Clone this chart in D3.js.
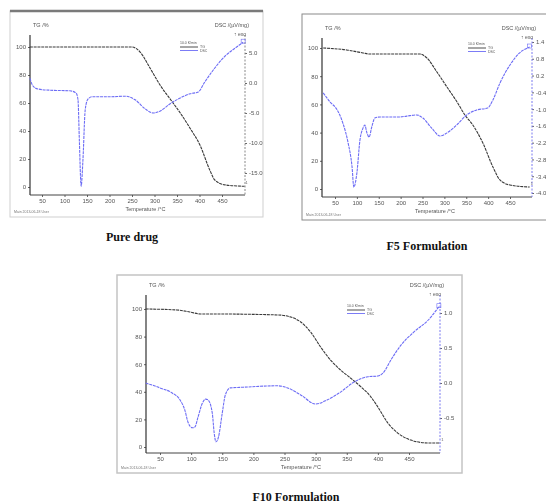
<!DOCTYPE html>
<html><head><meta charset="utf-8">
<script src="https://cdn.jsdelivr.net/npm/d3@7"></script>
<style>body{margin:0;background:#fff}svg{display:block}</style>
</head><body>
<svg id="c" width="546" height="503"></svg>
<script>
// TG / DSC thermograms: pure drug, F5 and F10 formulations

const tempTicks = [50, 100, 150, 200, 250, 300, 350, 400, 450];
const tgTicks = [0, 20, 40, 60, 80, 100];

// Pure drug
const pureTgTemp = [23, 250, 268, 290, 312, 339, 357, 379, 401, 423, 434, 457, 500];
const pureTg     = [100, 100, 96.4, 85, 73, 61, 53, 42, 30, 12, 5, 1.5, 0.5];
const pureDscTemp = [23, 30, 41, 68, 112, 126, 130, 133, 137, 141, 146, 152, 161, 201, 234, 257, 279, 297, 312, 334, 357, 379, 397, 412, 434, 457, 479, 497];
const pureDsc     = [0.8, -0.5, -1.0, -1.2, -1.3, -1.7, -2.8, -9.5, -17.2, -12.8, -4.5, -2.7, -2.3, -2.3, -2.2, -2.8, -4.3, -5.0, -4.7, -3.5, -2.5, -1.8, -1.5, 0.2, 2.5, 4.5, 5.8, 6.8];
const pureDscTicks = [5, 0, -5, -10, -15];
const pureDscLabels = ["5.0", "0.0", "-5.0", "-10.0", "-15.0"];

// F5 formulation
const f5TgTemp = [23, 77, 114, 130, 244, 260, 283, 306, 329, 347, 365, 388, 411, 427, 450, 495];
const f5Tg     = [100, 98.6, 96.5, 95.7, 95.7, 92.9, 83, 72.3, 61.7, 52.5, 45.4, 32.6, 15.6, 6.4, 2.8, 1.4];
const f5DscTemp = [23, 39, 55, 68, 80, 89, 93, 100, 107, 114, 118, 123, 128, 134, 141, 153, 198, 214, 237, 251, 271, 290, 306, 328, 351, 374, 399, 411, 427, 450, 472, 495];
const f5Dsc     = [-0.42, -0.75, -1.03, -1.50, -2.21, -3.07, -3.79, -3.29, -2.11, -1.68, -1.57, -1.85, -2.00, -1.64, -1.32, -1.28, -1.28, -1.25, -1.21, -1.32, -1.68, -1.96, -1.85, -1.57, -1.21, -1.03, -0.96, -0.67, -0.07, 0.58, 1.01, 1.22];
const f5DscTicks = [1.4, 0.8, 0.2, -0.4, -1.0, -1.6, -2.2, -2.8, -3.4, -4.0];
const f5DscLabels = ["1.4", "0.8", "0.2", "-0.4", "-1.0", "-1.6", "-2.2", "-2.8", "-3.4", "-4.0"];

// F10 formulation
const f10TgTemp = [27, 77, 98, 115, 131, 239, 260, 276, 292, 308, 324, 340, 356, 373, 389, 400, 416, 432, 453, 481, 500];
const f10Tg     = [100, 99.3, 97.8, 96.4, 96.4, 95.7, 94.2, 90.6, 83.3, 72.5, 63, 55.8, 50, 43.5, 36.2, 29, 17.4, 10.1, 5, 2.9, 2.9];
const f10DscTemp = [27, 50, 69, 82, 90, 95, 102, 106, 111, 118, 123, 127, 134, 137, 140, 144, 150, 155, 163, 184, 239, 255, 276, 300, 319, 340, 361, 384, 400, 408, 421, 437, 458, 481, 498];
const f10Dsc     = [0.0, -0.07, -0.14, -0.24, -0.39, -0.56, -0.64, -0.63, -0.49, -0.29, -0.23, -0.24, -0.43, -0.71, -0.84, -0.77, -0.43, -0.17, -0.07, -0.06, -0.04, -0.07, -0.17, -0.30, -0.24, -0.13, 0.01, 0.09, 0.10, 0.14, 0.33, 0.54, 0.73, 0.90, 1.09];
const f10DscTicks = [1.0, 0.5, 0.0, -0.5];
const f10DscLabels = ["1.0", "0.5", "0.0", "-0.5"];

const captions = ["Pure drug", "F5 Formulation", "F10 Formulation"];

const svg = d3.select("#c");
svg.append("rect").attr("width", 546).attr("height", 503).attr("fill", "#fff");
const defs = svg.append("defs");
defs.append("filter").attr("id", "soft").append("feGaussianBlur").attr("stdDeviation", 0.35);

const TG_COLOR = "#3a3a3a";
const DSC_COLOR = "#6d6df5";
const FONT = "Liberation Sans, Arial, sans-serif";

function panel(cfg) {
  const g = svg.append("g").attr("filter", "url(#soft)");
  // frame
  g.append("rect").attr("x", cfg.frame[0]).attr("y", cfg.frame[1])
    .attr("width", cfg.frame[2] - cfg.frame[0]).attr("height", cfg.frame[3] - cfg.frame[1])
    .attr("fill", "#fff").attr("stroke", cfg.frameColor).attr("stroke-width", cfg.frameWidth);
  if (cfg.topBar) {
    g.append("line").attr("x1", cfg.frame[0]).attr("x2", cfg.frame[2])
      .attr("y1", cfg.frame[1]).attr("y2", cfg.frame[1])
      .attr("stroke", "#7a7a7a").attr("stroke-width", 2.6);
  }

  const x = d3.scaleLinear().domain([50, 450]).range(cfg.xr);
  const yTg = d3.scaleLinear().domain([0, 100]).range(cfg.tgr);
  const yDsc = d3.scaleLinear().domain(cfg.dscDom).range(cfg.dscr);
  const [xl, xrr] = cfg.xEdge;
  const [yb, yt] = cfg.yEdge;

  // x axis
  const xa = g.append("g").attr("transform", `translate(0,${yb})`)
    .call(d3.axisBottom(x).tickValues(tempTicks).tickSize(2).tickPadding(2));
  xa.select(".domain").remove();
  g.append("line").attr("x1", xl).attr("x2", xrr).attr("y1", yb).attr("y2", yb)
    .attr("stroke", "#444").attr("stroke-width", 1);

  // left TG axis
  const ya = g.append("g").attr("transform", `translate(${xl},0)`)
    .call(d3.axisLeft(yTg).tickValues(tgTicks).tickSize(2).tickPadding(2));
  ya.select(".domain").remove();
  g.append("line").attr("x1", xl).attr("x2", xl).attr("y1", yt).attr("y2", yb)
    .attr("stroke", "#333").attr("stroke-width", 1.2);

  // right DSC axis
  const ra = g.append("g").attr("transform", `translate(${xrr},0)`)
    .call(d3.axisRight(yDsc).tickValues(cfg.dscTicks).tickSize(2).tickPadding(2)
      .tickFormat((d, i) => cfg.dscLabels[i]));
  ra.select(".domain").remove();
  g.append("line").attr("x1", xrr).attr("x2", xrr).attr("y1", yt).attr("y2", yb)
    .attr("stroke", cfg.rightColor).attr("stroke-width", 1).attr("stroke-dasharray", "2,1.5");

  g.selectAll(".tick text").attr("font-family", FONT).attr("font-size", 6).attr("fill", "#555");
  g.selectAll(".tick line").attr("stroke", "#666");

  // axis titles
  g.append("text").attr("x", xl + 3).attr("y", yt - 8).text("TG /%")
    .attr("font-family", FONT).attr("font-size", 5.5).attr("fill", "#555");
  g.append("text").attr("x", xrr + 4).attr("y", yt - 8).attr("text-anchor", "end").text("DSC /(µV/mg)")
    .attr("font-family", FONT).attr("font-size", 5.5).attr("fill", "#555");
  g.append("text").attr("x", xrr + 1).attr("y", yt + 1).attr("text-anchor", "end").text("↑ exo")
    .attr("font-family", FONT).attr("font-size", 5).attr("fill", "#555");
  g.append("text").attr("x", (xl + xrr) / 2 + 8).attr("y", yb + 16).attr("text-anchor", "middle")
    .text("Temperature /°C").attr("font-family", FONT).attr("font-size", 5.5).attr("fill", "#555");
  g.append("text").attr("x", cfg.frame[0] + 4).attr("y", cfg.frame[3] - 4).text("Main  2013-06-18  User")
    .attr("font-family", FONT).attr("font-size", 3.5).attr("fill", "#777");

  // curves
  const tgLine = d3.line().x(d => x(d[0])).y(d => yTg(d[1])).curve(d3.curveMonotoneX);
  const dscLine = d3.line().x(d => x(d[0])).y(d => yDsc(d[1])).curve(d3.curveMonotoneX);
  g.append("path").datum(d3.zip(cfg.tgT, cfg.tg)).attr("d", tgLine)
    .attr("fill", "none").attr("stroke", TG_COLOR).attr("stroke-width", 1.1).attr("stroke-dasharray", "3,0.8");
  g.append("path").datum(d3.zip(cfg.dscT, cfg.dsc)).attr("d", dscLine)
    .attr("fill", "none").attr("stroke", DSC_COLOR).attr("stroke-width", 1.1).attr("stroke-dasharray", "3,0.8");

  // legend
  const [lx, ly] = cfg.legend;
  g.append("text").attr("x", lx).attr("y", ly).text("10.0 K/min").attr("font-family", FONT).attr("font-size", 3.5).attr("fill", "#555");
  g.append("line").attr("x1", lx).attr("x2", lx + 18).attr("y1", ly + 3).attr("y2", ly + 3).attr("stroke", TG_COLOR).attr("stroke-width", 0.9);
  g.append("text").attr("x", lx + 20).attr("y", ly + 4).text("TG").attr("font-family", FONT).attr("font-size", 3.5).attr("fill", "#555");
  g.append("line").attr("x1", lx).attr("x2", lx + 18).attr("y1", ly + 6.5).attr("y2", ly + 6.5).attr("stroke", DSC_COLOR).attr("stroke-width", 0.9);
  g.append("text").attr("x", lx + 20).attr("y", ly + 8).text("DSC").attr("font-family", FONT).attr("font-size", 3.5).attr("fill", "#555");

  // end markers
  const lastTg = cfg.tg.length - 1;
  g.append("text").attr("x", x(cfg.tgT[lastTg]) + 1).attr("y", yTg(cfg.tg[lastTg]) - 2).text("1")
    .attr("font-family", FONT).attr("font-size", 4).attr("fill", "#666");
  const lastD = cfg.dsc.length - 1;
  g.append("rect").attr("x", x(cfg.dscT[lastD]) - 2).attr("y", yDsc(cfg.dsc[lastD]) - 3).attr("width", 4).attr("height", 4)
    .attr("fill", "none").attr("stroke", DSC_COLOR).attr("stroke-width", 0.6);

  // caption
  svg.append("text").attr("x", cfg.caption[0]).attr("y", cfg.caption[1]).attr("text-anchor", "middle")
    .text(cfg.title).attr("font-family", "Liberation Serif, Times New Roman, serif")
    .attr("font-weight", "bold").attr("font-size", 12).attr("fill", "#111");
}

panel({
  title: captions[0], caption: [132, 241],
  frame: [10, 11, 263, 217], frameColor: "#cfcfcf", frameWidth: 1, topBar: true,
  xr: [42, 222], tgr: [187, 47], dscDom: [-15, 5], dscr: [173, 53],
  xEdge: [30, 245], yEdge: [195, 35],
  dscTicks: pureDscTicks, dscLabels: pureDscLabels, rightColor: "#888",
  tgT: pureTgTemp, tg: pureTg, dscT: pureDscTemp, dsc: pureDsc,
  legend: [180, 44]
});

panel({
  title: captions[1], caption: [427, 250],
  frame: [302, 14, 560, 220], frameColor: "#8a8a8a", frameWidth: 1, topBar: false,
  xr: [335, 510], tgr: [189, 48], dscDom: [-4.0, 1.4], dscr: [193, 42],
  xEdge: [322, 532], yEdge: [197, 38],
  dscTicks: f5DscTicks, dscLabels: f5DscLabels, rightColor: "#7b7bf0",
  tgT: f5TgTemp, tg: f5Tg, dscT: f5DscTemp, dsc: f5Dsc,
  legend: [468, 45]
});

panel({
  title: captions[2], caption: [296, 501],
  frame: [117, 275, 462, 473], frameColor: "#c4c4c4", frameWidth: 1.5, topBar: false,
  xr: [160, 409], tgr: [447, 309], dscDom: [-0.5, 1.0], dscr: [418, 313],
  xEdge: [146, 440], yEdge: [453, 295],
  dscTicks: f10DscTicks, dscLabels: f10DscLabels, rightColor: "#7b7bf0",
  tgT: f10TgTemp, tg: f10Tg, dscT: f10DscTemp, dsc: f10Dsc,
  legend: [347, 307]
});
</script>
</body></html>
